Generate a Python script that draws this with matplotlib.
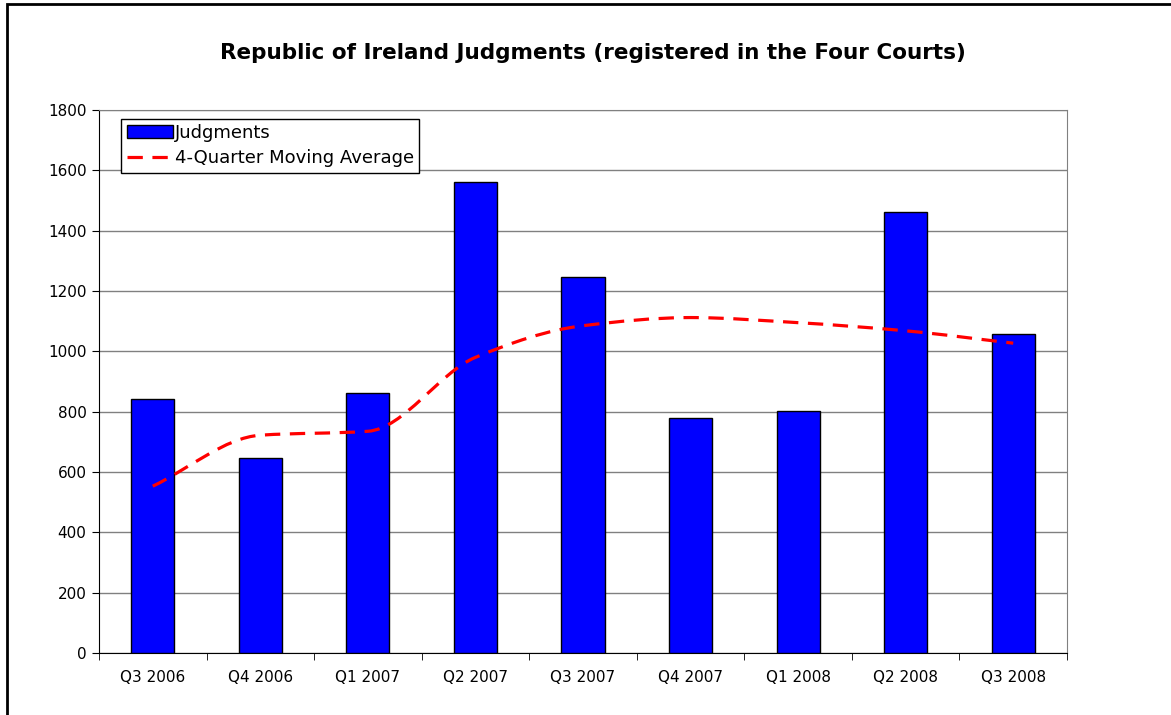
import matplotlib.pyplot as plt
from matplotlib.path import Path
from matplotlib.patches import PathPatch, Patch, Rectangle
from matplotlib.lines import Line2D
import numpy as np

quarters = ['Q3 2006', 'Q4 2006', 'Q1 2007', 'Q2 2007', 'Q3 2007',
            'Q4 2007', 'Q1 2008', 'Q2 2008', 'Q3 2008']
judgments = [843, 647, 862, 1561, 1247, 779, 801, 1462, 1057]
moving_avg = [553, 722, 735, 980, 1085, 1112, 1095, 1068, 1027]

fig = plt.figure(figsize=(11.71, 7.15), dpi=100)
ax = fig.add_axes([99/1171, 1 - 653/715, (1067-99)/1171, (653-110)/715])

x = np.arange(len(quarters))
ax.bar(x, judgments, width=0.4, color='#0000ff', edgecolor='black', linewidth=1, zorder=3)

# smoothed line: monotone hermite tangents turned into bezier pieces
y = np.array(moving_avg, dtype=float)
d = np.diff(y)
m = np.zeros_like(y)
m[0], m[-1] = d[0], d[-1]
for i in range(1, len(y) - 1):
    if d[i - 1] * d[i] > 0:
        m[i] = 2 * d[i - 1] * d[i] / (d[i - 1] + d[i])
verts = [(x[0], y[0])]
codes = [Path.MOVETO]
for i in range(len(y) - 1):
    verts += [(x[i] + 1/3, y[i] + m[i] / 3),
              (x[i + 1] - 1/3, y[i + 1] - m[i + 1] / 3),
              (x[i + 1], y[i + 1])]
    codes += [Path.CURVE4] * 3
dash = (0, (4.8, 3))
ax.add_patch(PathPatch(Path(verts, codes), fill=False, edgecolor='#ff0000',
                       linewidth=2.3, linestyle=dash, zorder=4))

ax.set_xlim(-0.5, len(quarters) - 0.5)
ax.set_ylim(0, 1800)
ax.set_yticks(range(0, 1801, 200))
ax.set_xticks(x)
ax.set_xticklabels(quarters, fontsize=11)
ax.set_xticks(np.arange(-0.5, len(quarters), 1), minor=True)
ax.tick_params(axis='x', which='major', length=0, pad=12)
ax.tick_params(axis='x', which='minor', length=5, color='black')
ax.tick_params(axis='y', length=5, labelsize=11, pad=4)
ax.yaxis.grid(True, color='#808080', linewidth=1, zorder=0)
ax.set_axisbelow(True)
ax.spines['top'].set_color('#808080')
ax.spines['right'].set_color('#808080')
ax.spines['left'].set_color('black')
ax.spines['bottom'].set_color('black')

handles = [Patch(facecolor='#0000ff', edgecolor='black', linewidth=1),
           Line2D([0], [0], color='#ff0000', linewidth=2.3, linestyle=dash)]
leg = ax.legend(handles, ['Judgments', '4-Quarter Moving Average'],
                loc='upper left', bbox_to_anchor=(0.023, 0.984), fontsize=13,
                fancybox=False, framealpha=1, edgecolor='black',
                handlelength=2.55, handletextpad=0.1, borderpad=0.3,
                labelspacing=0.4, borderaxespad=0)
leg.get_frame().set_linewidth(1)

fig.text(0.506, 1 - 53/715, 'Republic of Ireland Judgments (registered in the Four Courts)',
         ha='center', va='center', fontsize=15.5, fontweight='bold')

# outer chart border (only left/top visible in frame)
fig.patches.append(Rectangle((7/1171, -0.1), 1.2, 1 - 4/715 + 0.1,
                             transform=fig.transFigure, fill=False,
                             edgecolor='black', linewidth=2))

plt.savefig('out.png')
plt.close()
